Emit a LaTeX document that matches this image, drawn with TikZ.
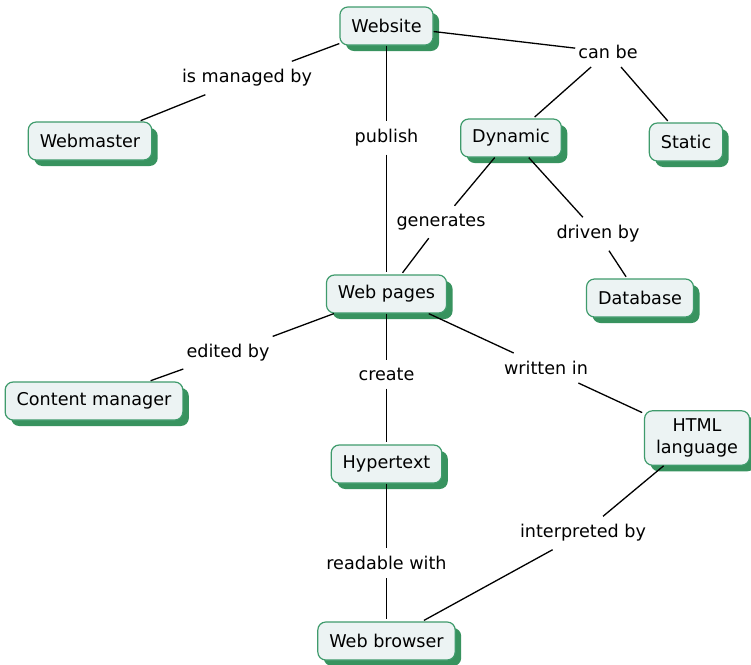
\documentclass[tikz,border=0pt]{standalone}
\usepackage{fontspec}
\setmainfont{DejaVu Sans}
\usetikzlibrary{shadows}
\definecolor{cgreen}{HTML}{3F9B6C}
\definecolor{cshadow}{HTML}{38935F}
\definecolor{cfill}{HTML}{ECF3F3}
\newcommand{\fsz}{\fontsize{17.6}{22}\selectfont}
\tikzset{
  concept/.style={draw=cgreen, line width=1.2pt, fill=cfill, rounded corners=8pt,
    inner xsep=11.5pt, inner ysep=7pt, minimum height=38pt, font=\fsz, align=center,
    drop shadow={shadow xshift=6pt, shadow yshift=-6pt, fill=cshadow, opacity=1}},
  lbl/.style={font=\fsz, inner xsep=3pt, inner ysep=8pt},
  link/.style={line width=1.3pt, black},
  cend/.style={shorten >=2pt}
}
\begin{document}
\begin{tikzpicture}[x=1pt,y=-1pt]
\useasboundingbox (0,0) rectangle (751,664);
% concepts
\node[concept] (website) at (386.5,26) {Website};
\node[concept] (webmaster) at (90,141) {Webmaster};
\node[concept] (dynamic) at (511,138) {Dynamic};
\node[concept] (static) at (686,142) {Static};
\node[concept] (webpages) at (386.5,294) {Web pages};
\node[concept] (database) at (640,298) {Database};
\node[concept] (content) at (94,401) {Content manager};
\node[concept] (hypertext) at (386.5,464) {Hypertext};
\node[concept, inner ysep=8pt] (html) at (697,438) {HTML\\language};
\node[concept] (browser) at (386.5,641) {Web browser};
% labels
\node[lbl] (l1) at (247,78) {is managed by};
\node[lbl] (l2) at (386.5,138) {publish};
\node[lbl] (l3) at (608,52) {can be};
\node[lbl] (l4) at (441,222) {generates};
\node[lbl] (l5) at (598,234) {driven by};
\node[lbl] (l6) at (228,353) {edited by};
\node[lbl] (l7) at (386.5,374) {create};
\node[lbl] (l8) at (546,368) {written in};
\node[lbl] (l9) at (386.5,563) {readable with};
\node[lbl] (l10) at (583,533) {interpreted by};
% links
\draw[link] (website) -- (l1); \draw[link,cend] (l1) -- (webmaster);
\draw[link] (website) -- (l2); \draw[link,cend] (l2) -- (webpages);
\draw[link] (website) -- (l3); \draw[link,cend] (l3) -- (dynamic);
\draw[link,cend] (l3) -- (static);
\draw[link] (dynamic) -- (l4); \draw[link,cend] (l4) -- (webpages);
\draw[link] (dynamic) -- (l5); \draw[link,cend] (l5) -- (database);
\draw[link] (webpages) -- (l6); \draw[link,cend] (l6) -- (content);
\draw[link] (webpages) -- (l7); \draw[link,cend] (l7) -- (hypertext);
\draw[link] (webpages) -- (l8); \draw[link,cend] (l8) -- (html);
\draw[link] (hypertext) -- (l9); \draw[link,cend] (l9) -- (browser);
\draw[link] (html) -- (l10); \draw[link,cend] (l10) -- (browser);
\end{tikzpicture}
\end{document}
